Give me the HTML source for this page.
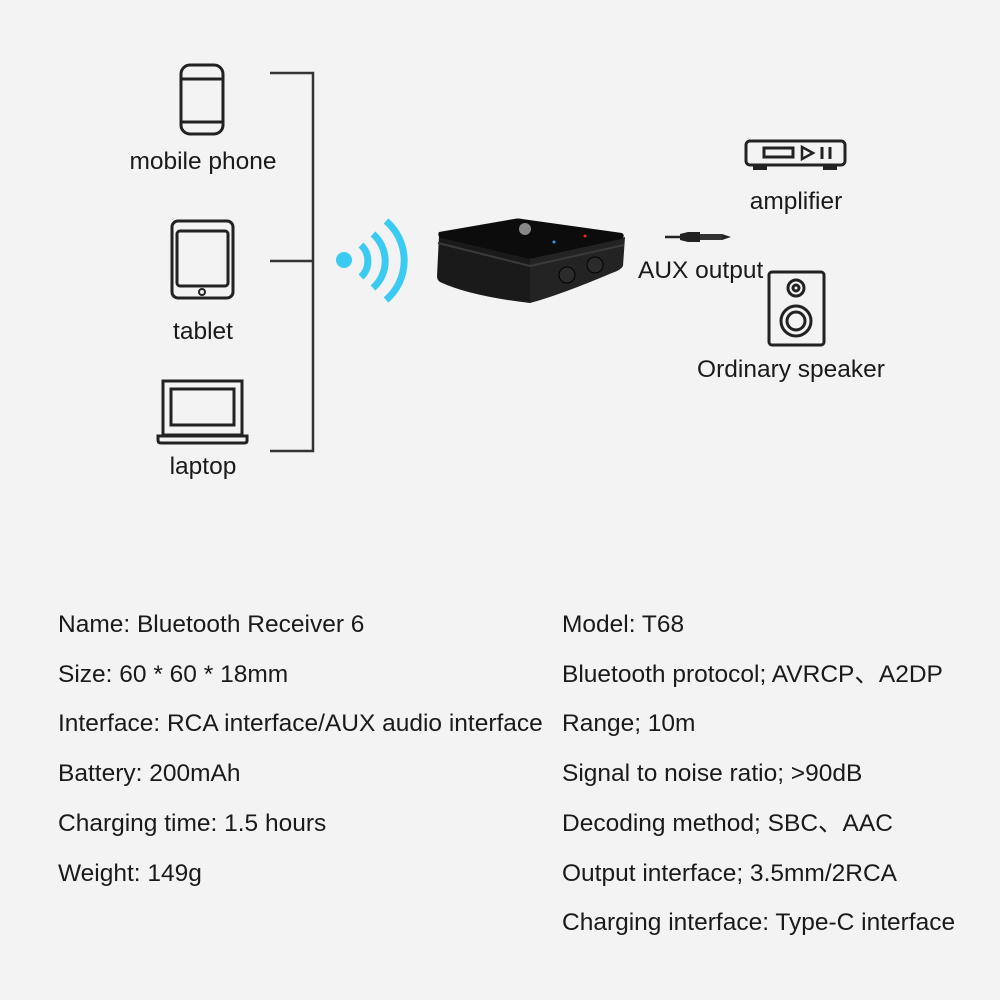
<!DOCTYPE html>
<html><head><style>
body{margin:0;background:#f3f3f3;}
svg{display:block}
text{font-family:"Liberation Sans","Noto Sans CJK SC",sans-serif;fill:#1a1a1a}
</style></head><body>
<svg width="1000" height="1000" viewBox="0 0 1000 1000">
<rect width="1000" height="1000" fill="#f3f3f3"/>
<g fill="none" stroke="#222" stroke-width="3">
<rect x="181" y="65" width="42" height="69" rx="9"/>
<line x1="181" y1="79" x2="223" y2="79"/><line x1="181" y1="122" x2="223" y2="122"/>
<rect x="172" y="221" width="61" height="77" rx="6"/>
<rect x="177" y="231" width="51" height="55" rx="3"/>
<circle cx="202" cy="292" r="3" stroke-width="2"/>
<rect x="163" y="381" width="79" height="54"/>
<rect x="171" y="389" width="63" height="36"/>
<path d="M158 436 H247 V441 Q247 443 244 443 H161 Q158 443 158 440 Z"/>
<g stroke="#333" stroke-width="2.5"><path d="M270 73 H313 V451 H270 M270 261 H313"/></g>
<rect x="746" y="141" width="99" height="24" rx="4"/>
<rect x="764" y="148" width="29" height="9"/>
<path d="M802 147 V159 L813 153 Z" stroke-width="2.5"/><line x1="822" y1="147" x2="822" y2="159"/><line x1="830" y1="147" x2="830" y2="159"/>
<rect x="769" y="272" width="55" height="73" rx="3"/>
<circle cx="796" cy="288" r="8"/><circle cx="796" cy="288" r="3"/>
<circle cx="796" cy="321" r="15"/><circle cx="796" cy="321" r="9"/>
</g>
<rect x="753" y="165" width="14" height="5" fill="#222"/><rect x="823" y="165" width="14" height="5" fill="#222"/>
<g fill="none" stroke="#3bcbf2" stroke-width="7">
<circle cx="344" cy="260" r="8" fill="#3bcbf2" stroke="none"/>
<path d="M361 245 A22 22 0 0 1 361 277"/>
<path d="M373 234 A36 36 0 0 1 373 288"/>
<path d="M386 221 A52 52 0 0 1 386 300"/>
</g>
<!-- device -->
<path d="M439 236 L530 258 L530 303 Q470 296 440 282 Q437 280 437 276 Z" fill="#1a1a1a"/>
<path d="M530 258 L625 237 L623 266 Q621 270 612 273 Q560 295 530 303 Z" fill="#232323"/>
<path d="M439 232 Q437 236 441 238 L526 258 Q530 259 534 258 L621 239 Q626 236 622 233 L522 219 Q518 218 514 219 Z" fill="#0c0c0c"/>
<path d="M438 243 L530 266 L624 245" stroke="#3a3a3a" stroke-width="2" fill="none"/>
<circle cx="525" cy="229" r="6" fill="#888"/>
<circle cx="554" cy="242" r="1.5" fill="#39f"/><circle cx="585" cy="236" r="1.5" fill="#e22"/>
<circle cx="567" cy="275" r="8" fill="#2b2b2b" stroke="#000"/><circle cx="595" cy="265" r="8" fill="#2b2b2b" stroke="#000"/>
<!-- aux jack -->
<line x1="665" y1="237" x2="680" y2="237" stroke="#222" stroke-width="2.5"/>
<path d="M680 234 L688 232 H700 V242 H688 L680 240 Z" fill="#222"/>
<rect x="700" y="234" width="22" height="6" fill="#333"/>
<path d="M722 234 L731 237 L722 240 Z" fill="#222"/>
<g font-size="24.5">
<text x="203" y="169" text-anchor="middle">mobile phone</text>
<text x="203" y="339" text-anchor="middle">tablet</text>
<text x="203" y="474" text-anchor="middle">laptop</text>
<text x="796" y="209" text-anchor="middle">amplifier</text>
<text x="638" y="278">AUX output</text>
<text x="791" y="377" text-anchor="middle">Ordinary speaker</text>
</g>
<g font-size="24.5">
<text x="58" y="632">Name: Bluetooth Receiver 6</text>
<text x="58" y="682">Size: 60 * 60 * 18mm</text>
<text x="58" y="731">Interface: RCA interface/AUX audio interface</text>
<text x="58" y="781">Battery: 200mAh</text>
<text x="58" y="831">Charging time: 1.5 hours</text>
<text x="58" y="881">Weight: 149g</text>
<text x="562" y="632">Model: T68</text>
<text x="562" y="682">Bluetooth protocol; AVRCP、A2DP</text>
<text x="562" y="731">Range; 10m</text>
<text x="562" y="781">Signal to noise ratio; &gt;90dB</text>
<text x="562" y="831">Decoding method; SBC、AAC</text>
<text x="562" y="881">Output interface; 3.5mm/2RCA</text>
<text x="562" y="930">Charging interface: Type-C interface</text>
</g>
</svg>
</body></html>
